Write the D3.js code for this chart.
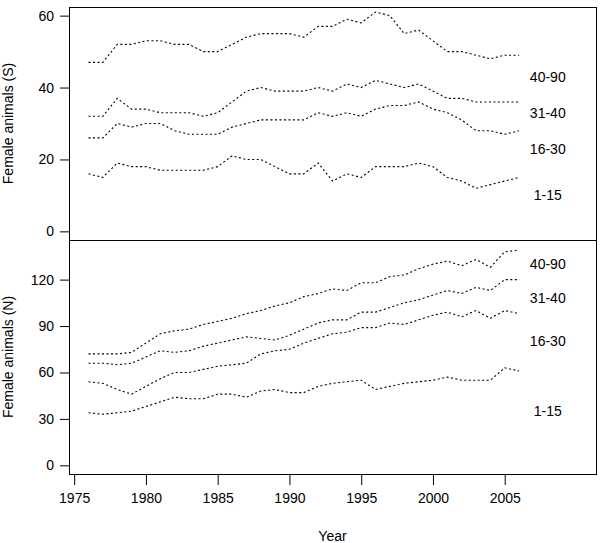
<!DOCTYPE html>
<html>
<head>
<meta charset="utf-8">
<script src="https://cdn.jsdelivr.net/npm/d3@7"></script>
<style>
  body { margin: 0; background: #fff; }
  text { font-family: "Liberation Sans", Arial, sans-serif; font-size: 14px; fill: #000; }
</style>
</head>
<body>
<div id="chart"></div>
<script>
// years on the x axis
var years = d3.range(1976, 2007);
var groups = ["1-15", "16-30", "31-40", "40-90"];

// Female animals (S), one array per age group
var s_1_15  = [16,15,19,18,18,17,17,17,17,18,21,20,20,18,16,16,19,14,16,15,18,18,18,19,18,15,14,12,13,14,15];
var s_16_30 = [26,26,30,29,30,30,28,27,27,27,29,30,31,31,31,31,33,32,33,32,34,35,35,36,34,33,31,28,28,27,28];
var s_31_40 = [32,32,37,34,34,33,33,33,32,33,36,39,40,39,39,39,40,39,41,40,42,41,40,41,39,37,37,36,36,36,36];
var s_40_90 = [47,47,52,52,53,53,52,52,50,50,52,54,55,55,55,54,57,57,59,58,61,60,55,56,53,50,50,49,48,49,49];

// Female animals (N)
var n_1_15  = [34,33,34,35,38,41,44,43,43,46,46,44,48,49,47,47,51,53,54,55,49,51,53,54,55,57,55,55,55,63,61];
var n_16_30 = [54,53,49,46,51,56,60,60,62,64,65,66,72,74,75,79,82,85,86,89,89,92,91,94,97,99,96,100,95,100,98];
var n_31_40 = [66,66,65,66,70,74,73,74,77,79,81,83,82,81,84,88,92,94,94,99,99,102,105,107,110,113,111,115,113,120,120];
var n_40_90 = [72,72,72,73,79,85,87,88,91,93,95,98,100,103,105,109,111,114,113,118,118,122,123,127,130,132,129,133,128,138,139];

// where the group names sit (data units)
var labelYear = 2008;
var s_labelY = [10, 23, 33, 43];
var n_labelY = [35, 80, 108, 130];

var xTicks = [1975, 1980, 1985, 1990, 1995, 2000, 2005];
var sTicks = [0, 20, 40, 60];
var nTicks = [0, 30, 60, 90, 120];

var W = 600, H = 543;
var left = 69, right = 596;

var svg = d3.select("#chart")
  .append("svg")
    .attr("width", W)
    .attr("height", H);

var x = d3.scaleLinear()
  .domain([1974.64, 2011.36])
  .range([left, right]);

function panel(top, bottom, domain, ticks, series, labelY, title) {
  var y = d3.scaleLinear()
    .domain(domain)
    .range([bottom, top]);

  var g = svg.append("g");

  // y axis on the left edge of the box
  g.append("g")
    .attr("transform", "translate(" + left + ",0)")
    .call(d3.axisLeft(y)
      .tickValues(ticks)
      .tickSize(9)
      .tickPadding(6))
    .call(a => a.select(".domain").remove())
    .call(a => a.selectAll("line").attr("stroke", "#000"))
    .call(a => a.selectAll("text")
      .style("font-family", "Liberation Sans, Arial, sans-serif")
      .style("font-size", "14px")
      .attr("fill", "#000"));

  var line = d3.line()
    .x((d, i) => x(years[i]))
    .y(d => y(d));

  g.selectAll(".series")
    .data(series)
    .enter()
      .append("path")
      .attr("class", "series")
      .attr("d", d => line(d))
      .attr("fill", "none")
      .attr("stroke", "#000")
      .attr("stroke-width", 1.1)
      .attr("stroke-dasharray", "2,2.5");

  g.selectAll(".grp")
    .data(groups)
    .enter()
      .append("text")
      .attr("class", "grp")
      .attr("x", x(labelYear))
      .attr("y", (d, i) => y(labelY[i]))
      .attr("dy", "0.35em")
      .style("text-anchor", "middle")
      .text(d => d);

  // box
  g.append("rect")
    .attr("x", left + 0.5)
    .attr("y", top + 0.5)
    .attr("width", right - left)
    .attr("height", bottom - top)
    .attr("fill", "none")
    .attr("stroke", "#000")
    .attr("stroke-width", 1);

  // y label
  g.append("text")
    .attr("transform", "translate(13," + ((top + bottom) / 2) + ") rotate(-90)")
    .style("text-anchor", "middle")
    .text(title);

  return y;
}

panel(7, 240, [-2.4, 62.4], sTicks, [s_1_15, s_16_30, s_31_40, s_40_90], s_labelY, "Female animals (S)");
panel(240, 474, [-5.6, 145.6], nTicks, [n_1_15, n_16_30, n_31_40, n_40_90], n_labelY, "Female animals (N)");

// x axis under the lower box
svg.append("g")
  .attr("transform", "translate(0,475)")
  .call(d3.axisBottom(x)
    .tickValues(xTicks)
    .tickFormat(d3.format("d"))
    .tickSize(10)
    .tickPadding(8))
  .call(a => a.select(".domain").remove())
  .call(a => a.selectAll("line").attr("stroke", "#000"))
  .call(a => a.selectAll("text")
    .style("font-family", "Liberation Sans, Arial, sans-serif")
    .style("font-size", "14px")
    .attr("fill", "#000"));

// text label for the x axis
svg.append("text")
  .attr("x", (left + right) / 2)
  .attr("y", 541)
  .style("text-anchor", "middle")
  .text("Year");
</script>
</body>
</html>
